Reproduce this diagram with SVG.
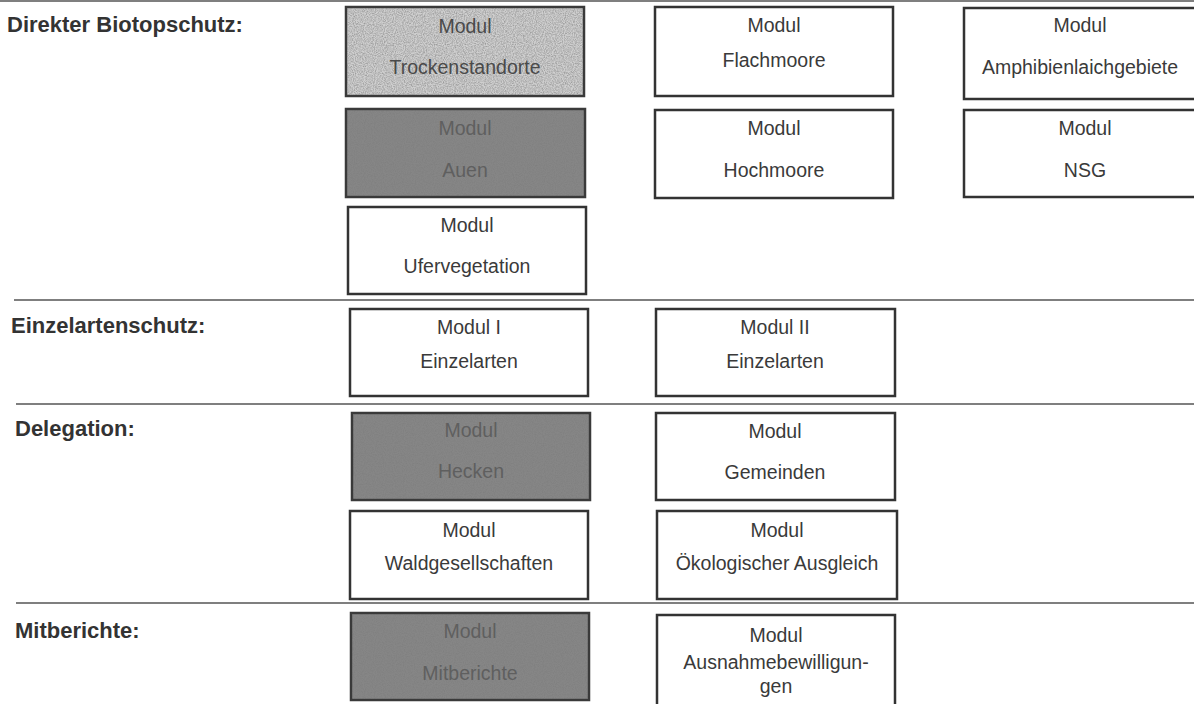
<svg xmlns="http://www.w3.org/2000/svg" width="1194" height="704" viewBox="0 0 1194 704">
<defs>
<filter id="grain" x="0" y="0" width="1" height="1">
<feTurbulence type="fractalNoise" baseFrequency="0.9" numOctaves="2" seed="3" result="n"/>
<feColorMatrix in="n" type="matrix" values="0 0 0 0 0.2  0 0 0 0 0.2  0 0 0 0 0.2  1.2 0 0 0 -0.4" result="g"/>
<feComposite in="g" in2="SourceGraphic" operator="in"/>
</filter>
<style>
.bg{fill:#ffffff}
.box{fill:#ffffff;stroke:#333333;stroke-width:2.5}
.light{fill:#cfcfcf;stroke:#3a3a3a;stroke-width:2.5}
.dark{fill:#868686;stroke:#3a3a3a;stroke-width:2.5}
.noise{fill:#808080}
.t{font-family:"Liberation Sans",Arial,sans-serif;font-size:19.5px;fill:#3a3a3a;text-anchor:middle}
.tl{fill:#4a4a4a}
.td{fill:#5f5f5f}
.h{font-family:"Liberation Sans",Arial,sans-serif;font-size:22px;font-weight:bold;fill:#333333}
.rule{stroke:#555555;stroke-width:1.6;fill:none}
</style>
</defs>
<rect class="bg" x="0" y="0" width="1194" height="704"/>

<g id="dividers">
<line class="rule" x1="0" y1="1" x2="1194" y2="1"/>
<line class="rule" x1="14" y1="300" x2="1194" y2="300"/>
<line class="rule" x1="16" y1="404" x2="1194" y2="404"/>
<line class="rule" x1="16" y1="603" x2="1194" y2="603"/>
</g>

<g id="headings">
<text class="h" x="7" y="32">Direkter Biotopschutz:</text>
<text class="h" x="11" y="333">Einzelartenschutz:</text>
<text class="h" x="15" y="436">Delegation:</text>
<text class="h" x="15" y="638">Mitberichte:</text>
</g>

<g id="trockenstandorte">
<rect class="light" x="346" y="7" width="238" height="89"/>
<rect class="noise" x="347" y="8" width="236" height="87" filter="url(#grain)"/>
<text class="t tl" x="465" y="33">Modul</text>
<text class="t tl" x="465" y="74">Trockenstandorte</text>
</g>

<g id="flachmoore">
<rect class="box" x="655" y="7" width="238" height="89"/>
<text class="t" x="774" y="32">Modul</text>
<text class="t" x="774" y="67">Flachmoore</text>
</g>

<g id="amphibienlaichgebiete">
<rect class="box" x="964" y="8" width="240" height="91"/>
<text class="t" x="1080" y="32">Modul</text>
<text class="t" x="1080" y="74">Amphibienlaichgebiete</text>
</g>

<g id="auen">
<rect class="dark" x="346" y="109" width="239" height="88"/>
<rect class="noise" x="347" y="110" width="237" height="86" filter="url(#grain)"/>
<text class="t td" x="465" y="135">Modul</text>
<text class="t td" x="465" y="177">Auen</text>
</g>

<g id="hochmoore">
<rect class="box" x="655" y="110" width="238" height="88"/>
<text class="t" x="774" y="135">Modul</text>
<text class="t" x="774" y="177">Hochmoore</text>
</g>

<g id="nsg">
<rect class="box" x="964" y="110" width="240" height="87"/>
<text class="t" x="1085" y="135">Modul</text>
<text class="t" x="1085" y="177">NSG</text>
</g>

<g id="ufervegetation">
<rect class="box" x="348" y="207" width="238" height="87"/>
<text class="t" x="467" y="232">Modul</text>
<text class="t" x="467" y="273">Ufervegetation</text>
</g>

<g id="einzelarten1">
<rect class="box" x="350" y="309" width="238" height="87"/>
<text class="t" x="469" y="334">Modul I</text>
<text class="t" x="469" y="368">Einzelarten</text>
</g>

<g id="einzelarten2">
<rect class="box" x="656" y="309" width="239" height="87"/>
<text class="t" x="775" y="334">Modul II</text>
<text class="t" x="775" y="368">Einzelarten</text>
</g>

<g id="hecken">
<rect class="dark" x="352" y="413" width="238" height="87"/>
<rect class="noise" x="353" y="414" width="236" height="85" filter="url(#grain)"/>
<text class="t td" x="471" y="437">Modul</text>
<text class="t td" x="471" y="478">Hecken</text>
</g>

<g id="gemeinden">
<rect class="box" x="656" y="413" width="239" height="87"/>
<text class="t" x="775" y="438">Modul</text>
<text class="t" x="775" y="479">Gemeinden</text>
</g>

<g id="waldgesellschaften">
<rect class="box" x="350" y="511" width="238" height="88"/>
<text class="t" x="469" y="537">Modul</text>
<text class="t" x="469" y="570">Waldgesellschaften</text>
</g>

<g id="oekologischer-ausgleich">
<rect class="box" x="657" y="511" width="240" height="88"/>
<text class="t" x="777" y="537">Modul</text>
<text class="t" x="777" y="570">Ökologischer Ausgleich</text>
</g>

<g id="mitberichte">
<rect class="dark" x="351" y="613" width="238" height="87"/>
<rect class="noise" x="352" y="614" width="236" height="85" filter="url(#grain)"/>
<text class="t td" x="470" y="638">Modul</text>
<text class="t td" x="470" y="680">Mitberichte</text>
</g>

<g id="ausnahmebewilligungen">
<rect class="box" x="657" y="615" width="238" height="95"/>
<text class="t" x="776" y="642">Modul</text>
<text class="t" x="776" y="669">Ausnahmebewilligun-</text>
<text class="t" x="776" y="693">gen</text>
</g>
</svg>
